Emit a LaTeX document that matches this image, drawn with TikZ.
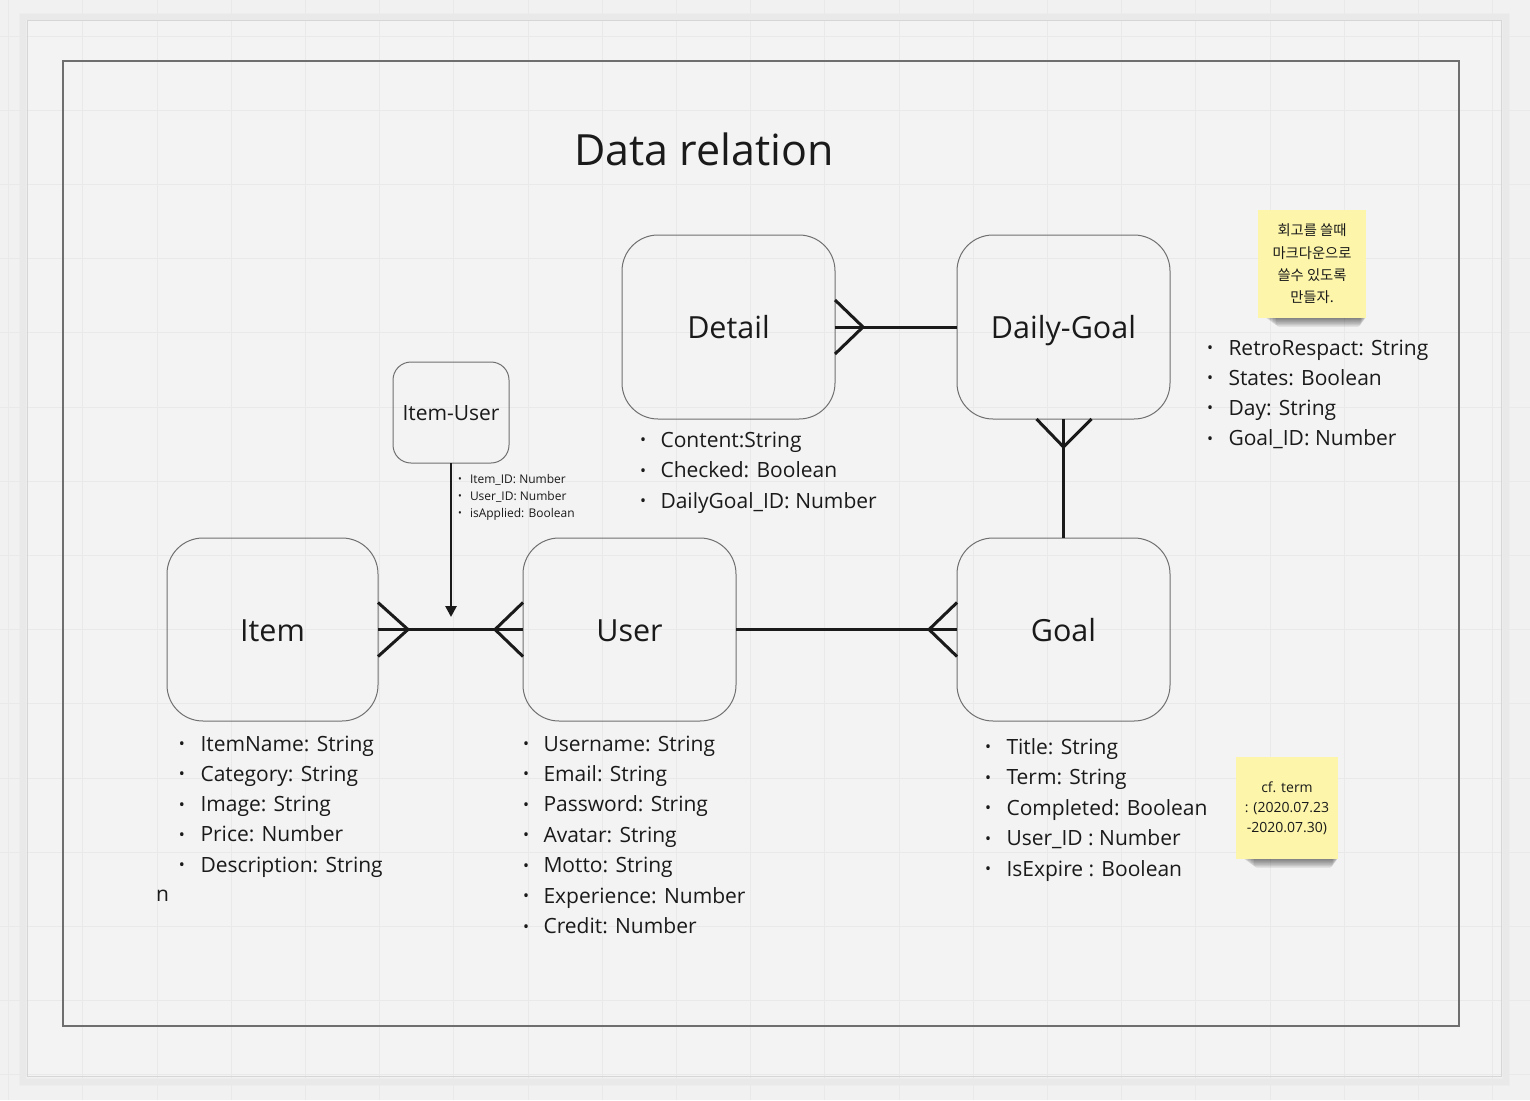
\documentclass[tikz,border=0pt]{standalone}
\usepackage{fontspec}
\setmainfont{Open Sans}
\newfontfamily\krfont{Noto Sans CJK KR}
\usetikzlibrary{calc,arrows.meta}
\definecolor{bg}{HTML}{F1F1F1}
\definecolor{framefill}{HTML}{F3F3F3}
\definecolor{gridc}{HTML}{E9E9E9}
\definecolor{ink}{HTML}{1A1A1A}
\definecolor{boxc}{HTML}{707070}
\definecolor{framec}{HTML}{6E6E6E}
\definecolor{frameedge}{HTML}{D6D6D6}
\definecolor{sticky}{HTML}{FDF6AA}
% name, bullet x, text x, first baseline, pitch, bullet raise, style, items
\newcommand\attrlist[8]{%
  \foreach \t [count=\i] in {#8} {%
    \node[#7, anchor=base west] (#1-\i) at (#3, {#4+(\i-1)*#5}) {\t};
    \node[#7bul] (#1-b\i) at (#2, {#4+(\i-1)*#5-#6}) {•};
  }}
% x1, x2, bottom
\newcommand\noteshadow[3]{%
  \foreach \k in {1,...,8} {%
    \fill[black, opacity=0.07, rounded corners=3pt] ({#1+6+1.5*\k}, {#3-6}) rectangle ({#2+1-0.8*\k}, {#3+1.1*\k});
  }}
\begin{document}
\begin{tikzpicture}[x=1pt, y=-1pt,
  every node/.style={inner sep=0pt, outer sep=0pt, text=ink},
  box/.style={draw=boxc, line width=1pt, rounded corners=36pt, minimum width=213pt, minimum height=184pt, font=\fontsize{30.5}{36}\selectfont, text height=23.8pt, text depth=0pt},
  attr/.style={font=\fontsize{21}{25}\selectfont},
  attrbul/.style={font=\fontsize{16}{18}\selectfont},
  small/.style={font=\fontsize{12}{14}\selectfont},
  smallbul/.style={font=\fontsize{10}{12}\selectfont},
  rel/.style={draw=ink, line width=3pt},
  arr/.style={draw=ink, line width=2.6pt, -{Triangle[length=11pt,width=11pt]}},
  note/.style={fill=sticky, minimum width=108pt, minimum height=108pt, align=center}
]
\useasboundingbox (0,0) rectangle (1530,1100);
\fill[bg] (0,0) rectangle (1530,1100);
% outer frame shadow
\foreach \k in {1,...,7} {
  \draw[black, opacity=0.015, line width=2pt] (27-\k, 21-\k) rectangle (1502+\k, 1078+\k);
}
\fill[framefill] (27,20) rectangle (1501,1076);
% grid
\foreach \g in {0,...,20} { \draw[gridc, line width=1pt] (8.6+74.2*\g, 0) -- (8.6+74.2*\g, 1100); }
\foreach \g in {0,...,14} { \draw[gridc, line width=1pt] (0, 36+74.2*\g) -- (1530, 36+74.2*\g); }
\draw[frameedge, line width=1pt] (27,20) rectangle (1501,1076);
\draw[framec, line width=1.3pt] (63,61) rectangle (1459,1026);

% title
\node[anchor=base west, font=\fontsize{43}{50}\selectfont] (title) at (574,165) {Data relation};

% entities
\node[box] (detail) at (728.5,327) {Detail};
\node[box] (daily) at (1063.5,327) {Daily-Goal};
\node[box, rounded corners=18pt, minimum width=116pt, minimum height=101pt, font=\fontsize{21}{25}\selectfont, text height=16pt] (iu) at (451,412.5) {Item-User};
\node[box, minimum width=211pt, minimum height=183pt] (item) at (272.5,629.5) {Item};
\node[box, minimum height=183pt] (user) at (629.5,629.5) {User};
\node[box, minimum height=183pt] (goal) at (1063.5,629.5) {Goal};

% relations
\draw[rel] (detail.east) -- (daily.west);
\draw[rel] ($(detail.east)+(0,-27)$) -- ($(detail.east)+(28,0)$) -- ($(detail.east)+(0,27)$);
\draw[rel] (daily.south) -- (goal.north);
\draw[rel] ($(daily.south)+(-27,0)$) -- ($(daily.south)+(0,28)$) -- ($(daily.south)+(28,0)$);
\draw[rel] (user.east) -- (goal.west);
\draw[rel] ($(goal.west)+(0,-27)$) -- ($(goal.west)+(-28,0)$) -- ($(goal.west)+(0,27)$);
\draw[rel] (item.east) -- (user.west);
\draw[rel] ($(item.east)+(0,-27)$) -- ($(item.east)+(30,0)$) -- ($(item.east)+(0,27)$);
\draw[rel] ($(user.west)+(0,-27)$) -- ($(user.west)+(-28,0)$) -- ($(user.west)+(0,27)$);
\coordinate (iutip) at (451,617);
\draw[arr] (iu.south) -- (iutip);

% attribute lists
\attrlist{det}{643}{660.5}{447}{30.5}{5.3}{attr}{Content:String, Checked: Boolean, DailyGoal\_ID: Number}
\attrlist{dg}{1210}{1228.5}{355}{30.2}{5.3}{attr}{RetroRespact: String, States: Boolean, Day: String, Goal\_ID: Number}
\attrlist{it}{182}{200.5}{751}{30.25}{5.3}{attr}{ItemName: String, Category: String, Image: String, Price: Number, Description: String}
\attrlist{us}{526}{543.5}{751}{30.4}{5.3}{attr}{Username: String, Email: String, Password: String, Avatar: String, Motto: String, Experience: Number, Credit: Number}
\attrlist{go}{988}{1006.5}{754}{30.5}{5.3}{attr}{Title: String, Term: String, Completed: Boolean, User\_ID : Number, IsExpire : Boolean}
\attrlist{iul}{460}{470}{483}{17}{3.2}{small}{Item\_ID: Number, User\_ID: Number, isApplied: Boolean}
\node[attr, anchor=base west] (stray) at (156,901.7) {n};

% sticky notes
\noteshadow{1258}{1366}{318}
\node[note, font=\krfont\fontsize{14.3}{22.3}\selectfont] (krnote) at (1312,264) {회고를 쓸때\\마크다운으로\\쓸수 있도록\\만들자.};
\noteshadow{1236}{1338}{859}
\node[note, minimum width=102pt, minimum height=102pt, font=\fontsize{14}{20}\selectfont] (cfnote) at (1287,808) {cf. term\\: (2020.07.23\\-2020.07.30)};
\end{tikzpicture}
\end{document}
